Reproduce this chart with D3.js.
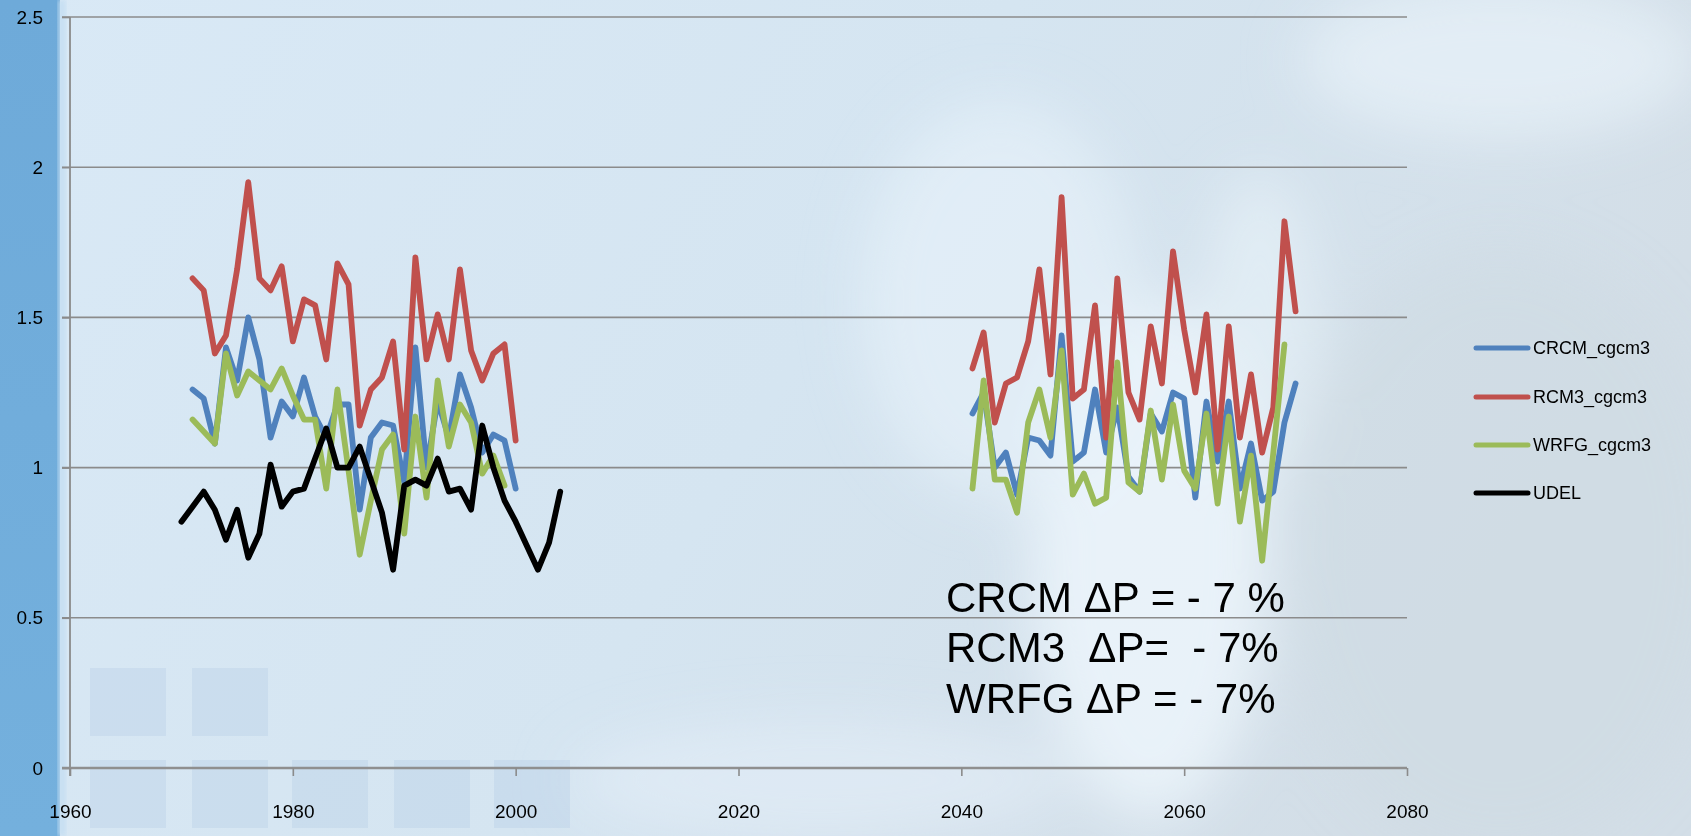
<!DOCTYPE html>
<html>
<head>
<meta charset="utf-8">
<script src="https://cdn.jsdelivr.net/npm/d3@7"></script>
<style>
  html, body { margin: 0; padding: 0; background: #d6e5f1; }
  svg { display: block; }
  text { font-family: "Liberation Sans", Arial, sans-serif; }
</style>
</head>
<body>
<svg id="chart" width="1691" height="836"></svg>
<script>
// Annual precipitation series (mm/day): historical 1971-2000 and future 2041-2070
const histStart = 1971;
const futStart = 2041;
const udelStart = 1970;

const crcmHist = [1.26, 1.23, 1.08, 1.40, 1.29, 1.50, 1.36, 1.10, 1.22, 1.17,
                  1.30, 1.17, 1.10, 1.21, 1.21, 0.86, 1.10, 1.15, 1.14, 0.95,
                  1.40, 1.00, 1.22, 1.10, 1.31, 1.20, 1.05, 1.11, 1.09, 0.93];
const rcm3Hist = [1.63, 1.59, 1.38, 1.44, 1.66, 1.95, 1.63, 1.59, 1.67, 1.42,
                  1.56, 1.54, 1.36, 1.68, 1.61, 1.14, 1.26, 1.30, 1.42, 1.06,
                  1.70, 1.36, 1.51, 1.36, 1.66, 1.39, 1.29, 1.38, 1.41, 1.09];
const wrfgHist = [1.16, 1.12, 1.08, 1.38, 1.24, 1.32, 1.29, 1.26, 1.33, 1.24,
                  1.16, 1.16, 0.93, 1.26, 0.99, 0.71, 0.89, 1.06, 1.11, 0.78,
                  1.17, 0.90, 1.29, 1.07, 1.21, 1.15, 0.98, 1.04, 0.94];
const udel     = [0.82, 0.87, 0.92, 0.86, 0.76, 0.86, 0.70, 0.78, 1.01, 0.87,
                  0.92, 0.93, 1.03, 1.13, 1.00, 1.00, 1.07, 0.96, 0.85, 0.66,
                  0.94, 0.96, 0.94, 1.03, 0.92, 0.93, 0.86, 1.14, 1.00, 0.89,
                  0.82, 0.74, 0.66, 0.75, 0.92];

const crcmFut = [1.18, 1.25, 1.00, 1.05, 0.91, 1.10, 1.09, 1.04, 1.44, 1.02,
                 1.05, 1.26, 1.05, 1.20, 0.97, 0.92, 1.18, 1.12, 1.25, 1.23,
                 0.90, 1.22, 1.02, 1.22, 0.93, 1.08, 0.89, 0.92, 1.15, 1.28];
const rcm3Fut = [1.33, 1.45, 1.15, 1.28, 1.30, 1.42, 1.66, 1.31, 1.90, 1.23,
                 1.26, 1.54, 1.10, 1.63, 1.25, 1.16, 1.47, 1.28, 1.72, 1.46,
                 1.25, 1.51, 1.06, 1.47, 1.10, 1.31, 1.05, 1.20, 1.82, 1.52];
const wrfgFut = [0.93, 1.29, 0.96, 0.96, 0.85, 1.15, 1.26, 1.10, 1.39, 0.91,
                 0.98, 0.88, 0.90, 1.35, 0.95, 0.92, 1.19, 0.96, 1.21, 0.99,
                 0.93, 1.18, 0.88, 1.17, 0.82, 1.04, 0.69, 1.05, 1.41];

const seriesNames  = ["CRCM_cgcm3", "RCM3_cgcm3", "WRFG_cgcm3", "UDEL"];
const seriesColors = ["#4f81bd", "#c0504d", "#9bbb59", "#000000"];

const xTicks = [1960, 1980, 2000, 2020, 2040, 2060, 2080];
const yTicks = [0, 0.5, 1, 1.5, 2, 2.5];

const notes = ["CRCM \u0394P = - 7 %", "RCM3  \u0394P=  - 7%", "WRFG \u0394P = - 7%"];

const svg = d3.select("#chart");
const W = 1691, H = 836;

// ---------- backdrop ----------
const defs = svg.append("defs");
const bg = defs.append("linearGradient").attr("id", "bgGrad")
  .attr("x1", 0).attr("y1", 0).attr("x2", 1).attr("y2", 0.3);
bg.append("stop").attr("offset", "0").attr("stop-color", "#d9e9f6");
bg.append("stop").attr("offset", "0.55").attr("stop-color", "#d5e5f1");
bg.append("stop").attr("offset", "1").attr("stop-color", "#d3dee7");

const band = defs.append("linearGradient").attr("id", "bandGrad")
  .attr("x1", 0).attr("y1", 0).attr("x2", 0).attr("y2", 1);
band.append("stop").attr("offset", "0").attr("stop-color", "#6eaad9");
band.append("stop").attr("offset", "1").attr("stop-color", "#74b0dd");

defs.append("filter").attr("id", "soft").attr("x", "-50%").attr("y", "-50%")
  .attr("width", "200%").attr("height", "200%")
  .append("feGaussianBlur").attr("stdDeviation", 28);
defs.append("filter").attr("id", "edge")
  .append("feGaussianBlur").attr("stdDeviation", 2);

svg.append("rect").attr("width", W).attr("height", H).attr("fill", "url(#bgGrad)");

// soft cloud shapes
const clouds = svg.append("g").attr("filter", "url(#soft)");
clouds.append("ellipse").attr("cx", 1150).attr("cy", 560).attr("rx", 120).attr("ry", 260)
  .attr("fill", "#eef6fc").attr("opacity", 0.8);
clouds.append("ellipse").attr("cx", 1000).attr("cy", 300).attr("rx", 140).attr("ry", 200)
  .attr("fill", "#e6f1fa").attr("opacity", 0.7);
clouds.append("ellipse").attr("cx", 1500).attr("cy", 60).attr("rx", 200).attr("ry", 80)
  .attr("fill", "#e8f2f9").attr("opacity", 0.7);
clouds.append("ellipse").attr("cx", 1260).attr("cy", 330).attr("rx", 60).attr("ry", 160)
  .attr("fill", "#eaf3fa").attr("opacity", 0.6);
clouds.append("ellipse").attr("cx", 1500).attr("cy", 550).attr("rx", 220).attr("ry", 300)
  .attr("fill", "#cfdae3").attr("opacity", 0.6);
clouds.append("ellipse").attr("cx", 820).attr("cy", 780).attr("rx", 250).attr("ry", 60)
  .attr("fill", "#e4eff8").attr("opacity", 0.6);

// faint tiles along the lower left
const tiles = [[90, 668], [192, 668], [90, 760], [192, 760], [292, 760], [394, 760], [494, 760]];
svg.append("g").selectAll("rect").data(tiles).join("rect")
  .attr("x", d => d[0]).attr("y", d => d[1])
  .attr("width", 76).attr("height", 68)
  .attr("fill", "#b4cbe6").attr("opacity", 0.35);

// left colour band
svg.append("rect").attr("x", 0).attr("y", 0).attr("width", 60).attr("height", H)
  .attr("fill", "url(#bandGrad)");
svg.append("rect").attr("x", 58).attr("y", 0).attr("width", 8).attr("height", H)
  .attr("fill", "#c4def2").attr("filter", "url(#edge)").attr("opacity", 0.8);

// ---------- scales ----------
const x = d3.scaleLinear().domain([1960, 2080]).range([70, 1407]);
const y = d3.scaleLinear().domain([0, 2.5]).range([768, 17]);

// horizontal gridlines
svg.append("g").selectAll("line").data(yTicks.filter(v => v > 0)).join("line")
  .attr("x1", x(1960) - 8).attr("x2", x(2080))
  .attr("y1", d => y(d)).attr("y2", d => y(d))
  .attr("stroke", "#8b8b8b").attr("stroke-width", 1.6);

// y axis
const yAxis = d3.axisLeft(y).tickValues(yTicks).tickSize(8).tickPadding(19)
  .tickFormat(d => d3.format("")(d));
const gy = svg.append("g").attr("transform", `translate(${x(1960)},0)`).call(yAxis);
gy.select(".domain").attr("stroke", "#8b8b8b").attr("stroke-width", 1.8)
  .attr("d", `M0,${y(2.5)}V${y(0) + 8}`);
gy.selectAll(".tick line").attr("stroke", "#8b8b8b").attr("stroke-width", 1.6);
gy.selectAll(".tick text").attr("font-size", 19).attr("fill", "#000")
  .attr("font-family", "'Liberation Sans', Arial, sans-serif");

// x axis
const xAxis = d3.axisBottom(x).tickValues(xTicks).tickSize(8).tickPadding(29)
  .tickFormat(d3.format("d"));
const gx = svg.append("g").attr("transform", `translate(0,${y(0)})`).call(xAxis);
gx.select(".domain").attr("stroke", "#8f8f8f").attr("stroke-width", 2.6)
  .attr("d", `M${x(1960) - 8},0H${x(2080)}`);
gx.selectAll(".tick line").attr("stroke", "#8b8b8b").attr("stroke-width", 1.6);
gx.selectAll(".tick text").attr("font-size", 19).attr("fill", "#000")
  .attr("font-family", "'Liberation Sans', Arial, sans-serif");

// ---------- series ----------
const line = d3.line().x(d => x(d[0])).y(d => y(d[1]));
const toPts = (arr, start) => arr.map((v, i) => [start + i, v]);

const segments = [
  [toPts(crcmHist, histStart), toPts(crcmFut, futStart)],
  [toPts(rcm3Hist, histStart), toPts(rcm3Fut, futStart)],
  [toPts(wrfgHist, histStart), toPts(wrfgFut, futStart)],
  [toPts(udel, udelStart)]
];

const plot = svg.append("g");
segments.forEach((segs, si) => {
  segs.forEach(pts => {
    plot.append("path").datum(pts)
      .attr("d", line)
      .attr("fill", "none")
      .attr("stroke", seriesColors[si])
      .attr("stroke-width", 5.8)
      .attr("stroke-linejoin", "round")
      .attr("stroke-linecap", "round");
  });
});

// ---------- legend ----------
const legendY = [348, 397, 445, 493];
const lg = svg.append("g");
seriesNames.forEach((name, i) => {
  lg.append("line").attr("x1", 1476).attr("x2", 1528)
    .attr("y1", legendY[i]).attr("y2", legendY[i])
    .attr("stroke", seriesColors[i]).attr("stroke-width", 5)
    .attr("stroke-linecap", "round");
  lg.append("text").attr("x", 1533).attr("y", legendY[i])
    .attr("dy", "0.36em").attr("font-size", 18).attr("fill", "#000")
    .text(name);
});

// ---------- change annotations ----------
const noteY = [612, 662, 713];
svg.append("g").selectAll("text").data(notes).join("text")
  .attr("x", 946).attr("y", (d, i) => noteY[i])
  .attr("font-size", 42).attr("fill", "#000")
  .style("white-space", "pre")
  .text(d => d);
</script>
</body>
</html>
